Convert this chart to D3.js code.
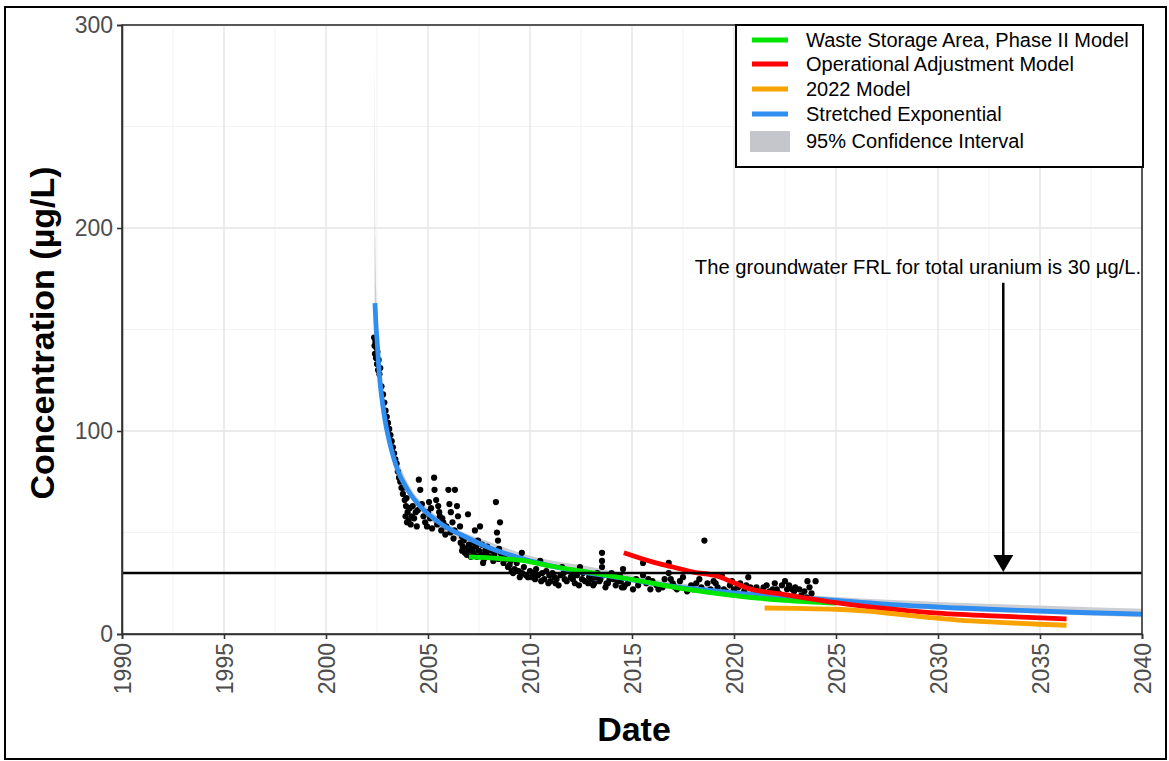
<!DOCTYPE html>
<html>
<head>
<meta charset="utf-8">
<script src="https://cdn.jsdelivr.net/npm/d3@7"></script>
<style>
  html, body { margin: 0; padding: 0; background: #fff; }
  svg { display: block; font-family: "Liberation Sans", Arial, sans-serif; }
</style>
</head>
<body>
<svg id="chart" width="1169" height="761"></svg>
<script>
// ---- Data -------------------------------------------------------------
// Observed total uranium (µg/L) by decimal year
const sampleDates = [
  2002.36,2002.38,2002.40,2002.42,2002.45,2002.47,2002.50,2002.52,2002.55,2002.58,2002.62,2002.66,2002.72,2002.80,2002.86,2002.92,2002.98,
  2003.04,2003.10,2003.16,2003.22,2003.28,2003.34,2003.40,2003.46,2003.52,2003.58,2003.64,2003.70,2003.77,2003.78,2003.86,2003.92,2003.97,
  2004.00,2004.05,2004.10,2004.20,2004.40,2004.55,2004.62,2004.70,2004.78,2004.86,2004.95,2005.00,2005.10,2005.20,2005.30,2005.32,2005.40,
  2005.50,2005.58,2005.65,2005.75,2005.85,2006.00,2006.05,2006.12,2006.20,2006.30,2006.32,2006.42,2006.47,2006.57,2006.60,2006.67,2006.67,
  2006.70,2006.75,2006.81,2006.85,2006.90,2006.96,2007.00,2007.05,2007.10,2007.16,2007.20,2007.25,2007.30,2007.35,2007.40,2007.45,2007.50,
  2007.55,2007.60,2007.65,2007.70,2007.75,2007.80,2007.85,2007.90,2008.00,2008.10,2008.20,2008.25,2008.33,2008.38,2008.43,2008.45,2008.48,
  2008.53,2008.55,2008.63,2008.70,2008.80,2008.92,2009.00,2009.05,2009.17,2009.25,2009.35,2009.45,2009.60,2009.62,2009.70,2009.80,2009.90,
  2010.00,2010.10,2010.25,2010.30,2010.40,2010.50,2010.60,2010.70,2010.80,2010.90,2011.00,2011.10,2011.20,2011.30,2011.40,2011.50,2011.57,
  2011.70,2011.80,2011.90,2012.06,2012.10,2012.20,2012.30,2012.45,2012.55,2012.60,2012.70,2012.85,2013.00,2013.10,2013.20,2013.30,2013.40,
  2013.53,2013.53,2013.53,2013.60,2013.70,2013.82,2013.90,2014.00,2014.17,2014.20,2014.30,2014.40,2014.50,2014.56,2014.60,2014.65,2014.80,
  2015.05,2015.20,2015.54,2015.54,2015.70,2015.90,2016.00,2016.20,2016.50,2016.80,2016.80,2016.90,2017.00,2017.20,2017.50,2017.70,2017.90,
  2018.00,2018.30,2018.40,2018.55,2018.70,2019.00,2019.20,2019.40,2019.60,2019.80,2020.00,2020.30,2020.50,2020.70,2020.80,2021.10,2021.30,
  2021.60,2021.90,2022.00,2022.20,2022.35,2022.50,2022.60,2022.85,2023.00,2023.30,2023.55,2023.60,2023.70,2023.80,2024.00,
  2003.90,2003.95,2004.15,2004.25,2004.32,2004.45,2004.50,2005.05,2005.15,2005.45,2005.55,2005.70,2005.90,2006.10,2006.25,
  2009.10,2009.50,2010.15,2010.55,2010.95,2011.25,2011.65,2012.00,2012.40,2012.90,2013.15,2013.45,2013.75,2014.10,2014.45,
  2015.30,2015.80,2016.30,2016.60,2017.10,2017.35,2017.80,2018.15,2018.85,2019.10,2019.50,2019.90,2020.20,2020.60,2021.00,
  2021.45,2021.75,2022.10,2022.70,2022.95,2023.20,2023.45
];
const sampleConc = [
  146,142,138,144,136,141,133,139,130,135,128,131,122,118,114,110,107,
  104,101,98,95,92,89,86,84,80,77,75,72,69,72,66,63,55,
  60,56,62,58,60,76,71,64,58,55,53,60,57,52,77,71,66,
  63,58,51,55,49,71,64,60,55,51,71,63,58,53,45,48,41,
  43,46,40,42,39,59,44,41,38,42,45,40,51,43,38,46,41,
  53,39,44,35,37,41,40,43,38,41,36,39,65,50,46,37,42,
  55,40,38,35,37,33,34,36,30,32,35,31,40,30,33,29,28,
  31,28,27,32,29,36,30,27,31,25,26,30,28,27,24,29,33,
  27,26,31,30,27,25,29,33,27,30,26,25,27,24,28,30,26,
  40,36,33,29,23,25,27,30,28,24,26,29,23,32,23,24,25,
  22,27,35,29,25,22,26,24,23,35,30,27,25,22,28,21,24,
  22,27,23,46,25,26,23,29,21,24,22,25,21,28,23,23,21,
  24,22,25,20,24,26,22,22,23,19,18,26,23,20,26,
  58,67,54,63,57,53,61,65,62,54,60,57,53,50,47,
  31,28,30,26,29,25,30,28,24,28,25,27,25,27,26,
  24,27,22,27,23,26,22,25,22,25,22,26,23,24,21,
  23,21,22,24,21,22,21
];

// Stretched exponential fit
const fitDates = [2002.40,2002.45,2002.50,2002.57,2002.65,2002.78,2002.90,2003.15,2003.50,2004.00,2004.70,2005.40,2006.00,2006.70,
  2008.00,2009.00,2010.00,2012.00,2014.40,2016.00,2018.00,2020.00,2022.00,2024.00,2026.00,2028.00,2031.00,2034.00,2037.00,2040.00];
const fitConc = [163,152,145,134,124,113,105,93,81,71,62,56,52,48.5,
  42.5,39,36,31.5,27.8,25,22.3,20.3,18.8,17.3,15.8,14.3,12.8,11.6,10.6,9.8];

// 95% confidence interval of the stretched exponential
const ciDates = [2002.38,2002.40,2002.42,2002.46,2002.52,2002.60,2002.70,2002.85,2003.00,2003.30,2003.70,2004.20,2005.00,2006.00,
  2008.00,2010.00,2013.00,2016.00,2020.00,2025.00,2030.00,2035.00,2040.00];
const ciUpper = [288,240,195,170,155,142,130,117,107,93,81,71,62,54,45.5,38.5,33,27,22,18.2,15.8,14,12.4];
const ciLower = [152,152,148,143,138,128,118,106,98,86,75,66,57,49.5,40.5,34.5,29.5,23.5,18.6,14.8,12,10,8.3];

// Waste Storage Area, Phase II Model
const wsaDates = [2007.0,2008.5,2009.6,2011.0,2012.85,2015.15,2017.5,2020.3,2022.5,2025.0];
const wsaConc  = [38,37.2,36.3,33.5,30.5,26.6,22.3,18.5,16.6,15.2];

// Operational Adjustment Model
const oamDates = [2014.6,2016.0,2017.0,2018.0,2019.2,2019.7,2020.6,2022.6,2024.7,2027.0,2029.8,2033.0,2036.3];
const oamConc  = [40,35.5,33,30.5,28.5,26.5,22.8,19.2,15.8,13,10.4,8.8,7.4];

// 2022 Model
const m22Dates = [2021.5,2023.0,2025.0,2026.5,2028.0,2029.5,2031.0,2033.0,2035.0,2036.3];
const m22Conc  = [12.8,12.6,12.2,11.3,9.8,8.2,6.8,5.7,4.8,4.3];

const xTicks = [1990,1995,2000,2005,2010,2015,2020,2025,2030,2035,2040];
const yTicks = [0,100,200,300];
const frlValue = 30;
const arrowDate = 2033.2;
const arrowTop = 173;

const legendLabels = ["Waste Storage Area, Phase II Model","Operational Adjustment Model","2022 Model","Stretched Exponential","95% Confidence Interval"];
const colors = { wsa: "#00e600", oam: "#ff0000", m22: "#f8a300", fit: "#2f8ef0", ci: "#c4c6cc" };

// ---- Layout -----------------------------------------------------------
const svg = d3.select("#chart");
const pLeft = 122, pRight = 1142, pTop = 25, pBottom = 634;
const x = d3.scaleLinear().domain([1990, 2040]).range([pLeft, pRight]);
const y = d3.scaleLinear().domain([0, 300]).range([pBottom, pTop]);

// outer frame
svg.append("rect").attr("x", 5).attr("y", 7).attr("width", 1161).attr("height", 752)
  .attr("fill", "none").attr("stroke", "#000").attr("stroke-width", 2);

// grid
const grid = svg.append("g");
d3.range(1992.5, 2040, 5).forEach(v => grid.append("line")
  .attr("x1", x(v)).attr("x2", x(v)).attr("y1", pTop).attr("y2", pBottom)
  .attr("stroke", "#f3f3f3").attr("stroke-width", 1));
[50,150,250].forEach(v => grid.append("line")
  .attr("x1", pLeft).attr("x2", pRight).attr("y1", y(v)).attr("y2", y(v))
  .attr("stroke", "#f3f3f3").attr("stroke-width", 1));
xTicks.forEach(v => grid.append("line")
  .attr("x1", x(v)).attr("x2", x(v)).attr("y1", pTop).attr("y2", pBottom)
  .attr("stroke", "#e4e4e4").attr("stroke-width", 1.3));
yTicks.forEach(v => grid.append("line")
  .attr("x1", pLeft).attr("x2", pRight).attr("y1", y(v)).attr("y2", y(v))
  .attr("stroke", "#e4e4e4").attr("stroke-width", 1.3));

// confidence band
const ciData = ciDates.map((d, i) => ({ d, lo: ciLower[i], hi: ciUpper[i] }));
svg.append("path").datum(ciData)
  .attr("d", d3.area().x(p => x(p.d)).y0(p => y(p.lo)).y1(p => y(p.hi)).curve(d3.curveMonotoneX))
  .attr("fill", colors.ci).attr("opacity", 0.85);

// observations
svg.append("g").selectAll("circle")
  .data(sampleDates.map((d, i) => ({ d, v: sampleConc[i] })))
  .join("circle")
  .attr("cx", p => x(p.d)).attr("cy", p => y(p.v)).attr("r", 3.1)
  .attr("fill", "#000");

// model lines
const line = d3.line().x(p => x(p[0])).y(p => y(p[1])).curve(d3.curveMonotoneX);
function drawLine(ds, vs, color) {
  svg.append("path").datum(ds.map((d, i) => [d, vs[i]]))
    .attr("d", line).attr("fill", "none").attr("stroke", color)
    .attr("stroke-width", 4.8).attr("stroke-linecap", "butt");
}
drawLine(fitDates, fitConc, colors.fit);
drawLine(wsaDates, wsaConc, colors.wsa);
drawLine(oamDates, oamConc, colors.oam);
drawLine(m22Dates, m22Conc, colors.m22);

// FRL reference line
svg.append("line").attr("x1", pLeft).attr("x2", pRight).attr("y1", y(frlValue)).attr("y2", y(frlValue))
  .attr("stroke", "#000").attr("stroke-width", 2.5);

// annotation arrow
const ax = x(arrowDate);
svg.append("line").attr("x1", ax).attr("x2", ax).attr("y1", y(arrowTop)).attr("y2", y(frlValue) - 12)
  .attr("stroke", "#000").attr("stroke-width", 2.5);
svg.append("path")
  .attr("d", `M${ax - 10},${y(frlValue) - 18} L${ax + 10},${y(frlValue) - 18} L${ax},${y(frlValue) - 1} Z`)
  .attr("fill", "#000");
svg.append("text").attr("x", 918).attr("y", 274).attr("text-anchor", "middle")
  .attr("font-size", 20.2).attr("fill", "#000")
  .text("The groundwater FRL for total uranium is 30 µg/L.");

// panel border
svg.append("rect").attr("x", pLeft).attr("y", pTop).attr("width", pRight - pLeft).attr("height", pBottom - pTop)
  .attr("fill", "none").attr("stroke", "#333").attr("stroke-width", 1.6);

// axes
const yAxis = svg.append("g").attr("transform", `translate(${pLeft},0)`)
  .call(d3.axisLeft(y).tickValues(yTicks).tickSize(5).tickPadding(4).tickFormat(d3.format("d")));
const xAxis = svg.append("g").attr("transform", `translate(0,${pBottom})`)
  .call(d3.axisBottom(x).tickValues(xTicks).tickSize(5).tickFormat(d3.format("d")));
[xAxis, yAxis].forEach(g => {
  g.select(".domain").attr("stroke", "#333").attr("stroke-width", 1.6);
  g.selectAll(".tick line").attr("stroke", "#333").attr("stroke-width", 1.6);
  g.selectAll(".tick text").attr("fill", "#4d4d4d").attr("font-size", 23)
    .attr("font-family", "'Liberation Sans', Arial, sans-serif");
});
xAxis.selectAll(".tick text")
  .attr("transform", "rotate(-90)").attr("text-anchor", "end")
  .attr("x", -9).attr("y", 0).attr("dy", "0.35em");

// axis titles
svg.append("text").attr("x", 634).attr("y", 741).attr("text-anchor", "middle")
  .attr("font-size", 34).attr("font-weight", "bold").text("Date");
svg.append("text").attr("transform", "translate(54,333) rotate(-90)").attr("text-anchor", "middle")
  .attr("font-size", 34).attr("font-weight", "bold").text("Concentration (µg/L)");

// legend
const lg = svg.append("g");
lg.append("rect").attr("x", 736).attr("y", 25).attr("width", 1143 - 736).attr("height", 142)
  .attr("fill", "#fff").attr("stroke", "#000").attr("stroke-width", 2);
const keyColors = [colors.wsa, colors.oam, colors.m22, colors.fit];
const rowY = [40, 64, 89, 114, 141];
keyColors.forEach((c, i) => lg.append("line")
  .attr("x1", 752).attr("x2", 788).attr("y1", rowY[i]).attr("y2", rowY[i])
  .attr("stroke", c).attr("stroke-width", 4.8));
lg.append("rect").attr("x", 750).attr("y", 131).attr("width", 40).attr("height", 21).attr("fill", colors.ci);
legendLabels.forEach((t, i) => lg.append("text")
  .attr("x", 806).attr("y", rowY[i] + 7).attr("font-size", 20).attr("fill", "#000").text(t));
</script>
</body>
</html>
